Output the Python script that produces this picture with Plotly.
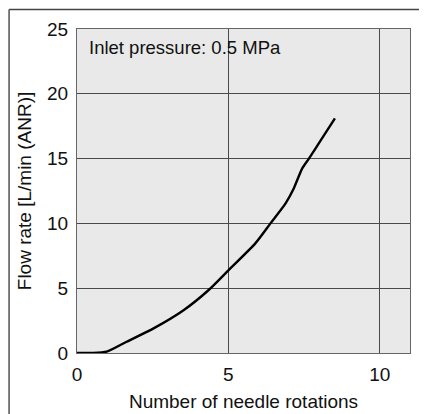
import plotly.graph_objects as go

rotations = [0, 0.5, 0.98, 1.64, 2.53, 3.52, 4.35, 5.01, 5.89, 6.39, 6.89, 7.16, 7.44, 7.66, 8.05, 8.52]
flow = [0, 0.0, 0.1, 0.87, 1.9, 3.3, 4.86, 6.4, 8.46, 10.0, 11.55, 12.7, 14.25, 15.0, 16.4, 18.1]
x_ticks = [0, 5, 10]
y_ticks = [0, 5, 10, 15, 20, 25]

font = "Liberation Sans, Arial, sans-serif"

fig = go.Figure()
fig.add_trace(go.Scatter(x=rotations, y=flow, mode="lines",
                         line=dict(color="black", width=2.4, shape="spline", smoothing=0.6),
                         showlegend=False, hoverinfo="skip"))

fig.update_layout(
    width=419, height=406,
    margin=dict(l=69, r=17, t=21, b=61, autoexpand=False),
    paper_bgcolor="white",
    plot_bgcolor="#e8e9e8",
    font=dict(family=font, size=19, color="#111"),
    xaxis=dict(range=[0, 11], tickvals=x_ticks, showgrid=True, gridcolor="#4a4a4a", gridwidth=1.3,
               zeroline=False, showline=True, linecolor="#666", linewidth=1.2, mirror=True,
               ticks="", ticklabelstandoff=4, automargin=False,
               title=dict(text="Number of needle rotations", font=dict(size=19), standoff=10),
               tickfont=dict(size=19)),
    yaxis=dict(range=[0, 25], tickvals=y_ticks, showgrid=True, gridcolor="#4a4a4a", gridwidth=1.3,
               zeroline=False, showline=True, linecolor="#666", linewidth=1.2, mirror=True,
               ticks="", ticklabelstandoff=4, automargin=False,
               title=dict(text="Flow rate [L/min (ANR)]", font=dict(size=19), standoff=10),
               tickfont=dict(size=19)),
    annotations=[dict(x=0.33, y=23.6, xref="x", yref="y", text="Inlet pressure: 0.5 MPa",
                      showarrow=False, xanchor="left", yanchor="middle",
                      font=dict(size=18.5, color="#111"))],
    shapes=[
        dict(type="line", xref="paper", yref="paper", x0=-0.204, x1=1.1, y0=1.06, y1=1.06,
             line=dict(color="#444", width=1.5), layer="above"),
        dict(type="line", xref="paper", yref="paper", x0=-0.204, x1=-0.204, y0=-0.2, y1=1.06,
             line=dict(color="#444", width=1.4), layer="above"),
    ],
)

fig.write_html("out.html", config={"displayModeBar": False})
